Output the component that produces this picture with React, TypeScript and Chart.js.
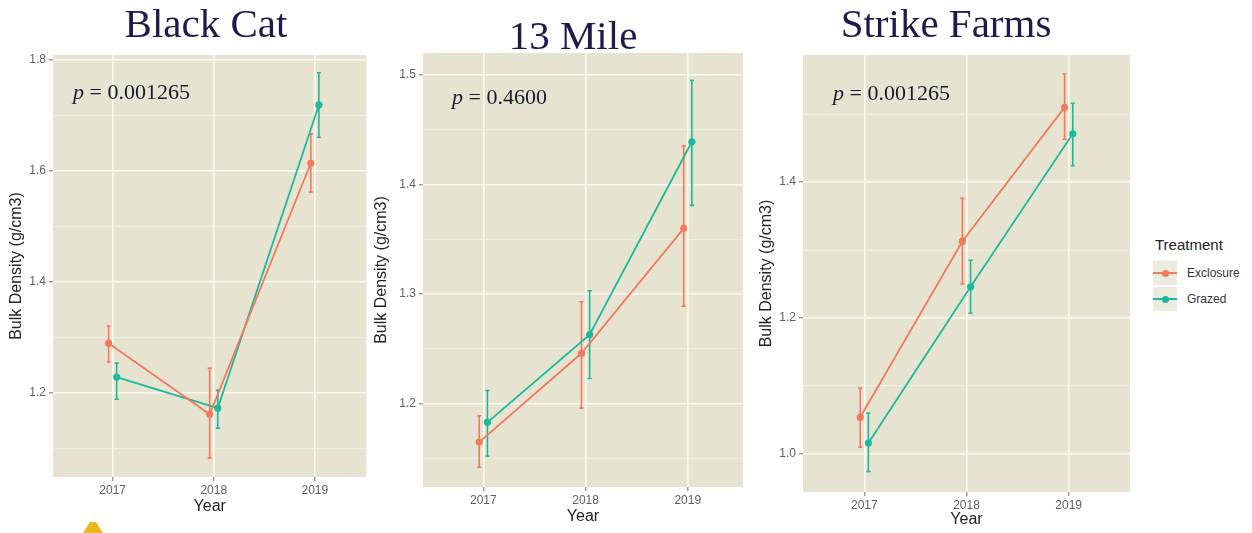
import React, { useEffect, useRef } from "react";
import { Chart, registerables } from "chart.js";

Chart.register(...registerables);
Chart.defaults.font.family = "'Liberation Sans', Arial, sans-serif";

// ---------- data ----------
const years = [2017, 2018, 2019];
const treatments = ["Exclosure", "Grazed"];

// Black Cat
const bcExclosure = [1.29, 1.162, 1.614];
const bcExclosureLow = [1.256, 1.083, 1.562];
const bcExclosureHigh = [1.321, 1.245, 1.667];
const bcGrazed = [1.229, 1.173, 1.719];
const bcGrazedLow = [1.189, 1.137, 1.661];
const bcGrazedHigh = [1.254, 1.205, 1.777];
const bcYTicks = [1.2, 1.4, 1.6, 1.8];
const bcYMinor = [1.1, 1.3, 1.5, 1.7];

// 13 Mile
const tmExclosure = [1.165, 1.246, 1.36];
const tmExclosureLow = [1.142, 1.196, 1.289];
const tmExclosureHigh = [1.189, 1.293, 1.435];
const tmGrazed = [1.183, 1.263, 1.439];
const tmGrazedLow = [1.152, 1.223, 1.381];
const tmGrazedHigh = [1.212, 1.303, 1.495];
const tmYTicks = [1.2, 1.3, 1.4, 1.5];
const tmYMinor = [1.15, 1.25, 1.35, 1.45];

// Strike Farms
const sfExclosure = [1.054, 1.313, 1.51];
const sfExclosureLow = [1.01, 1.25, 1.463];
const sfExclosureHigh = [1.097, 1.376, 1.559];
const sfGrazed = [1.016, 1.246, 1.471];
const sfGrazedLow = [0.974, 1.207, 1.424];
const sfGrazedHigh = [1.06, 1.285, 1.516];
const sfYTicks = [1.0, 1.2, 1.4];
const sfYMinor = [1.1, 1.3, 1.5];

const siteTitles = ["Black Cat", "13 Mile", "Strike Farms"];
const pValues = ["0.001265", "0.4600", "0.001265"];

// ---------- style ----------
const COLORS: Record<string, string> = { Exclosure: "#F2795B", Grazed: "#1CB99C" };
const DODGE: Record<string, number> = { Exclosure: -0.04, Grazed: 0.04 };
const PANEL_BG = "#E6E4D0";
const GRID_MAJOR = "#FBFAF2";
const GRID_MINOR = "#F1F0E2";
const TICK_COLOR = "#5E5E5E";
const NAVY = "#1E1A4C";

type Panel = {
  ex: number[]; exLow: number[]; exHigh: number[];
  gr: number[]; grLow: number[]; grHigh: number[];
  yMajor: number[]; yMinor: number[];
  yMin: number; yMax: number; xMin: number; xMax: number;
  left: number; top: number; width: number; height: number;
  padTop: number; padRight: number; yAxisW: number; xAxisH: number;
  yTitlePad: number; xTitlePad: number;
};

const panels: Panel[] = [
  {
    ex: bcExclosure, exLow: bcExclosureLow, exHigh: bcExclosureHigh,
    gr: bcGrazed, grLow: bcGrazedLow, grHigh: bcGrazedHigh,
    yMajor: bcYTicks, yMinor: bcYMinor,
    yMin: 1.049, yMax: 1.809, xMin: 2016.41, xMax: 2019.51,
    left: 0, top: 40, width: 370, height: 480,
    padTop: 15, padRight: 0, yAxisW: 53, xAxisH: 43, yTitlePad: 7.4, xTitlePad: 3.4,
  },
  {
    ex: tmExclosure, exLow: tmExclosureLow, exHigh: tmExclosureHigh,
    gr: tmGrazed, grLow: tmGrazedLow, grHigh: tmGrazedHigh,
    yMajor: tmYTicks, yMinor: tmYMinor,
    yMin: 1.124, yMax: 1.52, xMin: 2016.41, xMax: 2019.54,
    left: 370, top: 40, width: 378, height: 490,
    padTop: 13, padRight: 5, yAxisW: 53, xAxisH: 43, yTitlePad: 2.4, xTitlePad: 3.4,
  },
  {
    ex: sfExclosure, exLow: sfExclosureLow, exHigh: sfExclosureHigh,
    gr: sfGrazed, grLow: sfGrazedLow, grHigh: sfGrazedHigh,
    yMajor: sfYTicks, yMinor: sfYMinor,
    yMin: 0.944, yMax: 1.587, xMin: 2016.4, xMax: 2019.6,
    left: 750, top: 40, width: 385, height: 493,
    padTop: 15, padRight: 5, yAxisW: 53, xAxisH: 41, yTitlePad: 7.4, xTitlePad: 3.4,
  },
];

const isIn = (arr: number[], v: number) => arr.some((a) => Math.abs(a - v) < 1e-6);

const decorPlugin = {
  id: "panelDecor",
  beforeDraw(chart: any) {
    const { ctx, chartArea: a } = chart;
    ctx.save();
    ctx.fillStyle = PANEL_BG;
    ctx.fillRect(a.left, a.top, a.right - a.left, a.bottom - a.top);
    ctx.restore();
  },
  beforeDatasetsDraw(chart: any) {
    const { ctx } = chart;
    const xs = chart.scales.x;
    const ys = chart.scales.y;
    ctx.save();
    chart.data.datasets.forEach((ds: any) => {
      ctx.strokeStyle = ds.borderColor;
      ctx.lineWidth = 1.6;
      ds.data.forEach((pt: any, i: number) => {
        const x = xs.getPixelForValue(pt.x);
        const xl = xs.getPixelForValue(pt.x - 0.02);
        const xr = xs.getPixelForValue(pt.x + 0.02);
        const yl = ys.getPixelForValue(ds.errLow[i]);
        const yh = ys.getPixelForValue(ds.errHigh[i]);
        ctx.beginPath();
        ctx.moveTo(x, yl);
        ctx.lineTo(x, yh);
        ctx.moveTo(xl, yl);
        ctx.lineTo(xr, yl);
        ctx.moveTo(xl, yh);
        ctx.lineTo(xr, yh);
        ctx.stroke();
      });
    });
    ctx.restore();
  },
};

function PanelChart({ p }: { p: Panel }) {
  const ref = useRef<HTMLCanvasElement>(null);
  useEffect(() => {
    if (!ref.current) return;
    const series: Record<string, [number[], number[], number[]]> = {
      Exclosure: [p.ex, p.exLow, p.exHigh],
      Grazed: [p.gr, p.grLow, p.grHigh],
    };
    const datasets = treatments.map((t) => ({
      label: t,
      data: years.map((yr, i) => ({ x: yr + DODGE[t], y: series[t][0][i] })),
      errLow: series[t][1],
      errHigh: series[t][2],
      showLine: true,
      borderColor: COLORS[t],
      backgroundColor: COLORS[t],
      borderWidth: 1.8,
      pointRadius: 3.6,
      pointBorderWidth: 0,
      pointHoverRadius: 3.6,
    }));
    const allY = [...p.yMajor, ...p.yMinor].sort((a, b) => a - b);
    const chart = new Chart(ref.current, {
      type: "scatter",
      data: { datasets: datasets as any },
      plugins: [decorPlugin],
      options: {
        animation: false,
        responsive: true,
        maintainAspectRatio: false,
        layout: { padding: { top: p.padTop, right: p.padRight, left: 0, bottom: 0 } },
        plugins: { legend: { display: false }, tooltip: { enabled: false } },
        scales: {
          x: {
            type: "linear",
            min: p.xMin,
            max: p.xMax,
            afterBuildTicks: (s: any) => {
              s.ticks = years.map((v) => ({ value: v }));
            },
            afterFit: (s: any) => {
              s.height = p.xAxisH;
            },
            ticks: {
              autoSkip: false,
              maxRotation: 0,
              padding: 2,
              color: TICK_COLOR,
              font: { size: 12 },
              callback: (v: any) => String(v),
            },
            grid: {
              color: GRID_MAJOR,
              lineWidth: 1.6,
              tickColor: "#6a6a6a",
              tickLength: 4,
              tickWidth: 1,
            },
            border: { display: false },
            title: {
              display: true,
              text: "Year",
              color: "#222",
              font: { size: 16 },
              padding: { top: 0, bottom: p.xTitlePad },
            },
          },
          y: {
            type: "linear",
            min: p.yMin,
            max: p.yMax,
            afterBuildTicks: (s: any) => {
              s.ticks = allY.map((v) => ({ value: v }));
            },
            afterFit: (s: any) => {
              s.width = p.yAxisW;
            },
            ticks: {
              autoSkip: false,
              padding: 3,
              color: TICK_COLOR,
              font: { size: 12 },
              callback: (v: any) => (isIn(p.yMajor, v) ? Number(v).toFixed(1) : ""),
            },
            grid: {
              color: (c: any) => (c.tick && isIn(p.yMajor, c.tick.value) ? GRID_MAJOR : GRID_MINOR),
              lineWidth: (c: any) => (c.tick && isIn(p.yMajor, c.tick.value) ? 1.6 : 0.8),
              tickColor: (c: any) =>
                c.tick && isIn(p.yMajor, c.tick.value) ? "#6a6a6a" : "rgba(0,0,0,0)",
              tickLength: 4,
              tickWidth: 1,
            },
            border: { display: false },
            title: {
              display: true,
              text: "Bulk Density (g/cm3)",
              color: "#222",
              font: { size: 16 },
              padding: { top: p.yTitlePad, bottom: 0 },
            },
          },
        },
      } as any,
    });
    return () => chart.destroy();
  }, [p]);
  return (
    <div
      style={{
        position: "absolute",
        left: p.left,
        top: p.top,
        width: p.width,
        height: p.height,
      }}
    >
      <canvas ref={ref} />
    </div>
  );
}

const titlePos = [
  { cx: 206, top: 3 },
  { cx: 573, top: 15 },
  { cx: 946, top: 3 },
];
const pPos = [
  { left: 73, top: 81 },
  { left: 452, top: 86 },
  { left: 833, top: 82 },
];

function LegendKey({ color, top }: { color: string; top: number }) {
  return (
    <div
      style={{
        position: "absolute",
        left: 1153,
        top,
        width: 24,
        height: 24,
        background: "#ECEBDF",
      }}
    >
      <div
        style={{
          position: "absolute",
          left: 0,
          right: 0,
          top: 11,
          height: 2,
          background: color,
        }}
      />
      <div
        style={{
          position: "absolute",
          left: 8.5,
          top: 8.5,
          width: 7,
          height: 7,
          borderRadius: "50%",
          background: color,
        }}
      />
    </div>
  );
}

export default function App() {
  return (
    <div
      style={{
        position: "absolute",
        left: 0,
        top: 0,
        width: 1252,
        height: 533,
        background: "#ffffff",
        overflow: "hidden",
      }}
    >
      {panels.map((p, i) => (
        <PanelChart key={i} p={p} />
      ))}
      {siteTitles.map((t, i) => (
        <div
          key={t}
          style={{
            position: "absolute",
            left: titlePos[i].cx,
            top: titlePos[i].top,
            transform: "translateX(-50%)",
            whiteSpace: "nowrap",
            fontFamily: "'Liberation Serif', 'Times New Roman', serif",
            fontSize: 41,
            lineHeight: "41px",
            color: NAVY,
          }}
        >
          {t}
        </div>
      ))}
      {pValues.map((v, i) => (
        <div
          key={i}
          style={{
            position: "absolute",
            left: pPos[i].left,
            top: pPos[i].top,
            whiteSpace: "nowrap",
            fontFamily: "'Liberation Serif', 'Times New Roman', serif",
            fontSize: 22,
            lineHeight: "22px",
            color: "#1A1A2E",
          }}
        >
          <i>p</i> = {v}
        </div>
      ))}
      <div
        style={{
          position: "absolute",
          left: 1155,
          top: 236,
          fontFamily: "'Liberation Sans', Arial, sans-serif",
          fontSize: 15,
          lineHeight: "18px",
          color: "#222",
        }}
      >
        Treatment
      </div>
      {treatments.map((t, i) => (
        <React.Fragment key={t}>
          <LegendKey color={COLORS[t]} top={261 + i * 26} />
          <div
            style={{
              position: "absolute",
              left: 1187,
              top: 264 + i * 26,
              fontFamily: "'Liberation Sans', Arial, sans-serif",
              fontSize: 12,
              lineHeight: "18px",
              color: "#333",
            }}
          >
            {t}
          </div>
        </React.Fragment>
      ))}
      <div
        style={{
          position: "absolute",
          left: 83,
          top: 522,
          width: 20,
          height: 11,
          background: "#E9B821",
          clipPath: "polygon(35% 0, 65% 0, 100% 100%, 0 100%)",
        }}
      />
    </div>
  );
}
